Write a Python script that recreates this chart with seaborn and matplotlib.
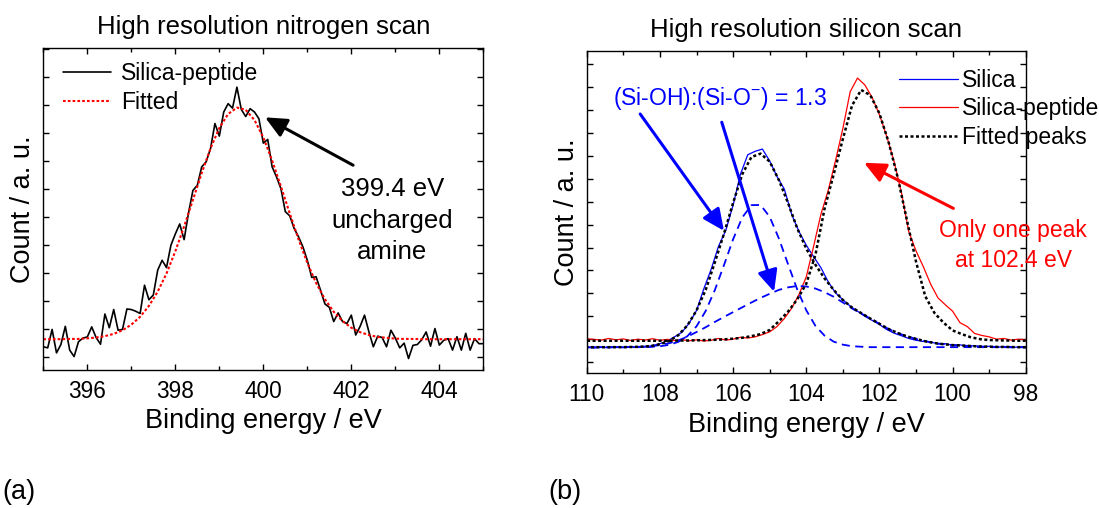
import numpy as np
import pandas as pd
import matplotlib
matplotlib.use("Agg")
import matplotlib.pyplot as plt
import seaborn as sns
from matplotlib.ticker import MultipleLocator

# ---------------- data: (a) nitrogen scan ----------------
n_energy = np.round(np.arange(395.0, 405.0001, 0.1), 2)
n_counts = [
    0.37, 0.33, 0.99, 0.15, 0.45, 1.10, 0.25, 0.02, 0.55, 0.68,
    0.72, 1.08, 0.70, 0.46, 1.54, 1.05, 1.70, 0.96, 0.99, 1.72,
    1.70, 1.64, 1.56, 2.57, 2.05, 2.22, 3.11, 3.46, 3.20, 4.00,
    4.40, 4.76, 4.20, 5.15, 5.96, 6.14, 6.80, 6.98, 7.45, 8.35,
    7.90, 8.76, 9.06, 8.90, 9.65, 8.85, 8.60, 8.88, 8.76, 8.52,
    7.65, 7.78, 6.80, 6.44, 6.02, 5.20, 5.05, 4.60, 4.30, 3.94,
    3.46, 2.85, 2.87, 2.39, 1.90, 1.78, 1.27, 1.58, 1.27, 1.20,
    1.50, 0.79, 1.10, 1.50, 0.90, 0.37, 0.75, 0.70, 0.37, 0.96,
    0.68, 0.33, 0.50, -0.05, 0.42, 0.45, 0.62, 0.90, 0.39, 1.02,
    0.43, 0.60, 0.66, 0.25, 0.73, 0.25, 0.85, 0.25, 0.66, 0.48, 0.48,
]
n_fit_energy = np.round(np.arange(395.0, 405.0001, 0.2), 2)
n_fit = [
    0.64, 0.64, 0.64, 0.65, 0.65,
    0.67, 0.70, 0.75, 0.83, 0.96,
    1.16, 1.44, 1.83, 2.34, 2.99,
    3.78, 4.67, 5.62, 6.58, 7.46,
    8.19, 8.69, 8.92, 8.84, 8.47,
    7.85, 7.03, 6.10, 5.14, 4.21,
    3.37, 2.65, 2.07, 1.62, 1.29,
    1.05, 0.89, 0.79, 0.72, 0.69,
    0.66, 0.65, 0.65, 0.64, 0.64,
    0.64, 0.64, 0.64, 0.64, 0.64, 0.64,
]

# ---------------- data: (b) silicon scan ----------------
si_energy = np.round(np.arange(98.0, 110.0001, 0.2), 2)
silica = [
    0.62, 0.66, 0.63, 0.68, 0.64,
    0.69, 0.66, 0.71, 0.70, 0.75,
    0.74, 0.80, 0.79, 0.88, 0.90,
    0.95, 1.03, 1.15, 1.26, 1.42,
    1.64, 1.82, 2.00, 2.22, 2.44,
    2.72, 3.02, 3.50, 4.12, 4.60,
    5.10, 5.70, 6.45, 7.55, 8.10,
    8.78, 9.30, 9.20, 9.05, 8.20,
    6.85, 5.75, 5.05, 4.05, 3.20,
    2.25, 1.70, 1.30, 1.10, 0.92,
    0.80, 0.72, 0.66, 0.64, 0.67,
    0.63, 0.66, 0.62, 0.65, 0.61,
    0.64,
]
silica_peptide = [
    0.97, 1.00, 0.96, 1.03, 1.00,
    1.10, 1.16, 1.25, 1.55, 1.72,
    2.22, 2.50, 2.80, 3.40, 4.16,
    4.85, 5.70, 7.40, 8.75, 9.85,
    10.80, 11.55, 12.10, 12.40, 11.80,
    10.20, 8.80, 7.50, 6.45, 5.05,
    3.72, 2.95, 2.35, 1.90, 1.55,
    1.32, 1.20, 1.10, 1.05, 1.08,
    1.00, 0.96, 1.03, 0.95, 0.92,
    0.97, 0.93, 0.98, 0.94, 0.99,
    0.95, 1.02, 0.96, 1.00, 0.94,
    1.01, 0.97, 1.03, 0.96, 0.99,
    1.01,
]
fit_energy = np.round(np.arange(98.0, 110.0001, 0.25), 2)
silica_fit = [
    0.65, 0.65, 0.66, 0.66, 0.67, 0.68, 0.70, 0.72,
    0.74, 0.78, 0.83, 0.91, 1.01, 1.12, 1.27, 1.44,
    1.67, 1.90, 2.14, 2.38, 2.71, 3.15, 3.65, 4.25,
    4.95, 5.85, 6.95, 7.95, 8.75, 9.10, 8.95, 8.20,
    6.95, 5.60, 4.35, 3.15, 2.25, 1.60, 1.17, 0.92,
    0.78, 0.70, 0.67, 0.66, 0.65, 0.65, 0.65, 0.65,
    0.65,
]
silica_sioh = [
    0.65, 0.65, 0.65, 0.65, 0.65, 0.65, 0.65, 0.65,
    0.65, 0.65, 0.65, 0.65, 0.65, 0.65, 0.65, 0.65,
    0.65, 0.65, 0.67, 0.69, 0.76, 0.89, 1.15, 1.58,
    2.26, 3.18, 4.28, 5.40, 6.34, 6.86, 6.85, 6.31,
    5.36, 4.23, 3.14, 2.23, 1.56, 1.13, 0.88, 0.75,
    0.69, 0.66, 0.65, 0.65, 0.65, 0.65, 0.65, 0.65,
    0.65,
]
silica_sio = [
    0.65, 0.65, 0.66, 0.66, 0.67, 0.68, 0.70, 0.72,
    0.74, 0.78, 0.83, 0.91, 1.01, 1.12, 1.27, 1.44,
    1.67, 1.90, 2.12, 2.34, 2.60, 2.85, 3.05, 3.21,
    3.30, 3.32, 3.26, 3.15, 2.98, 2.80, 2.60, 2.39,
    2.18, 1.97, 1.75, 1.52, 1.31, 1.11, 0.94, 0.82,
    0.74, 0.69, 0.67, 0.66, 0.65, 0.65, 0.65, 0.65,
    0.65,
]
peptide_fit = [
    0.93, 0.93, 0.94, 0.95, 0.96, 1.00, 1.08, 1.22,
    1.38, 1.72, 2.15, 2.88, 4.38, 6.20, 8.05, 9.60,
    10.85, 11.65, 11.88, 11.20, 9.74, 8.20, 6.70, 4.68,
    3.42, 2.73, 2.20, 1.78, 1.40, 1.22, 1.13, 1.06,
    1.02, 0.99, 0.97, 0.96, 0.95, 0.94, 0.94, 0.93,
    0.93, 0.93, 0.93, 0.93, 0.93, 0.93, 0.93, 0.93,
    0.93,
]

# ---------------- style ----------------
sns.set_style("ticks", rc={"axes.edgecolor": "black", "xtick.color": "black",
                           "ytick.color": "black", "text.color": "black",
                           "axes.labelcolor": "black"})
plt.rcParams["font.family"] = ["Liberation Sans", "DejaVu Sans"]
plt.rcParams["mathtext.fontset"] = "custom"
plt.rcParams["mathtext.rm"] = "Liberation Sans"
plt.rcParams["mathtext.it"] = "Liberation Sans:italic"
plt.rcParams["mathtext.bf"] = "Liberation Sans:bold"

fig = plt.figure(figsize=(10.99, 5.08), dpi=100)
axL = fig.add_axes([0.0394, 0.2717, 0.4004, 0.6333])
axR = fig.add_axes([0.5339, 0.2652, 0.3995, 0.6344])

BLUE = "#0000FF"
RED = "#FF0000"

# ---------------- panel (a) ----------------
dfN = pd.DataFrame({"energy": n_energy, "count": n_counts})
dfNf = pd.DataFrame({"energy": n_fit_energy, "count": n_fit})
sns.lineplot(data=dfN, x="energy", y="count", ax=axL, color="black", lw=1.2,
             sort=False, estimator=None)
sns.lineplot(data=dfNf, x="energy", y="count", ax=axL, color=RED, lw=1.5,
             linestyle=(0, (1.3, 1.0)), sort=False, estimator=None)
axL.set_xlim(395, 405)
axL.set_ylim(-0.46, 11.04)
axL.xaxis.set_major_locator(MultipleLocator(2))
axL.xaxis.set_minor_locator(MultipleLocator(1))
axL.yaxis.set_major_locator(MultipleLocator(1))
axL.set_title("High resolution nitrogen scan", fontsize=18.5, pad=10)
axL.set_xlabel("Binding energy / eV", fontsize=19.5, labelpad=4)
axL.set_ylabel("Count / a. u.", fontsize=19.5, labelpad=5)
legL = axL.legend(axL.lines[:2], ["Silica-peptide", "Fitted"], loc="upper left",
                  bbox_to_anchor=(0.044, 0.956), frameon=False, fontsize=16.5,
                  handlelength=2.1, handletextpad=0.45, labelspacing=0.25,
                  borderpad=0, borderaxespad=0)
axL.annotate("", xy=(400.04, 8.57), xytext=(402.04, 6.86),
             arrowprops=dict(arrowstyle="-|>,head_length=0.65,head_width=0.3",
                             color="black", lw=2.2, mutation_scale=20,
                             shrinkA=0, shrinkB=0))
axL.text(402.93, 4.88, "399.4 eV\nuncharged\namine", ha="center", va="center",
         fontsize=18.5, linespacing=1.38)

# ---------------- panel (b) ----------------
dfS = pd.DataFrame({"energy": si_energy, "silica": silica, "peptide": silica_peptide})
dfF = pd.DataFrame({"energy": fit_energy, "fit": silica_fit, "sioh": silica_sioh,
                    "sio": silica_sio, "pfit": peptide_fit})
sns.lineplot(data=dfS, x="energy", y="silica", ax=axR, color=BLUE, lw=0.9,
             sort=False, estimator=None)
sns.lineplot(data=dfS, x="energy", y="peptide", ax=axR, color=RED, lw=0.9,
             sort=False, estimator=None)
sns.lineplot(data=dfF, x="energy", y="sioh", ax=axR, color=BLUE, lw=1.3,
             linestyle=(0, (4.5, 3.0)), sort=False, estimator=None)
sns.lineplot(data=dfF, x="energy", y="sio", ax=axR, color=BLUE, lw=1.3,
             linestyle=(0, (4.5, 3.0)), sort=False, estimator=None)
sns.lineplot(data=dfF, x="energy", y="fit", ax=axR, color="black", lw=1.8,
             linestyle=(0, (1.2, 1.0)), sort=False, estimator=None)
sns.lineplot(data=dfF, x="energy", y="pfit", ax=axR, color="black", lw=1.8,
             linestyle=(0, (1.2, 1.0)), sort=False, estimator=None)
axR.set_xlim(110, 98)
axR.set_ylim(-0.49, 13.58)
axR.xaxis.set_major_locator(MultipleLocator(2))
axR.xaxis.set_minor_locator(MultipleLocator(1))
axR.yaxis.set_major_locator(MultipleLocator(1))
axR.set_title("High resolution silicon scan", fontsize=18.5, pad=10)
axR.set_xlabel("Binding energy / eV", fontsize=19.5, labelpad=4)
axR.set_ylabel("Count / a. u.", fontsize=19.5, labelpad=5)
lines = axR.lines
legR = axR.legend([lines[0], lines[1], lines[4]], ["Silica", "Silica-peptide", "Fitted peaks"],
                  loc="upper left", bbox_to_anchor=(0.7115, 0.944), frameon=False,
                  fontsize=16.5, handlelength=2.55, handletextpad=0.2,
                  labelspacing=0.23, borderpad=0, borderaxespad=0)
arrow_kw = dict(arrowstyle="-|>,head_length=0.65,head_width=0.3", lw=2.2,
                mutation_scale=20, shrinkA=0, shrinkB=0)
axR.annotate("", xy=(106.25, 5.73), xytext=(108.54, 10.83),
             arrowprops=dict(color=BLUE, **arrow_kw))
axR.annotate("", xy=(104.88, 3.07), xytext=(106.31, 10.47),
             arrowprops=dict(color=BLUE, **arrow_kw))
axR.annotate("", xy=(102.42, 8.70), xytext=(99.98, 6.71),
             arrowprops=dict(color=RED, **arrow_kw))
axR.text(109.28, 11.22, r"(Si-OH):(Si-O$^{\mathrm{-}}$) = 1.3", color=BLUE,
         fontsize=16.5, ha="left", va="baseline")
axR.text(98.35, 5.1, "Only one peak\nat 102.4 eV", color=RED, fontsize=16.5,
         ha="center", va="center", linespacing=1.37, clip_on=False)

for ax in (axL, axR):
    ax.tick_params(which="both", direction="in", top=True, right=True,
                   left=True, bottom=True, labelleft=False, width=1.0,
                   labelsize=16.3, pad=7)
    ax.tick_params(which="major", length=4.3)
    ax.tick_params(which="minor", length=2.8)
    for sp in ax.spines.values():
        sp.set_linewidth(1.0)
        sp.set_color("black")

fig.text(0.002, 0.0315, "(a)", fontsize=19.5, ha="left", va="center")
fig.text(0.4986, 0.0315, "(b)", fontsize=19.5, ha="left", va="center")

fig.savefig("out.png", dpi=100)
